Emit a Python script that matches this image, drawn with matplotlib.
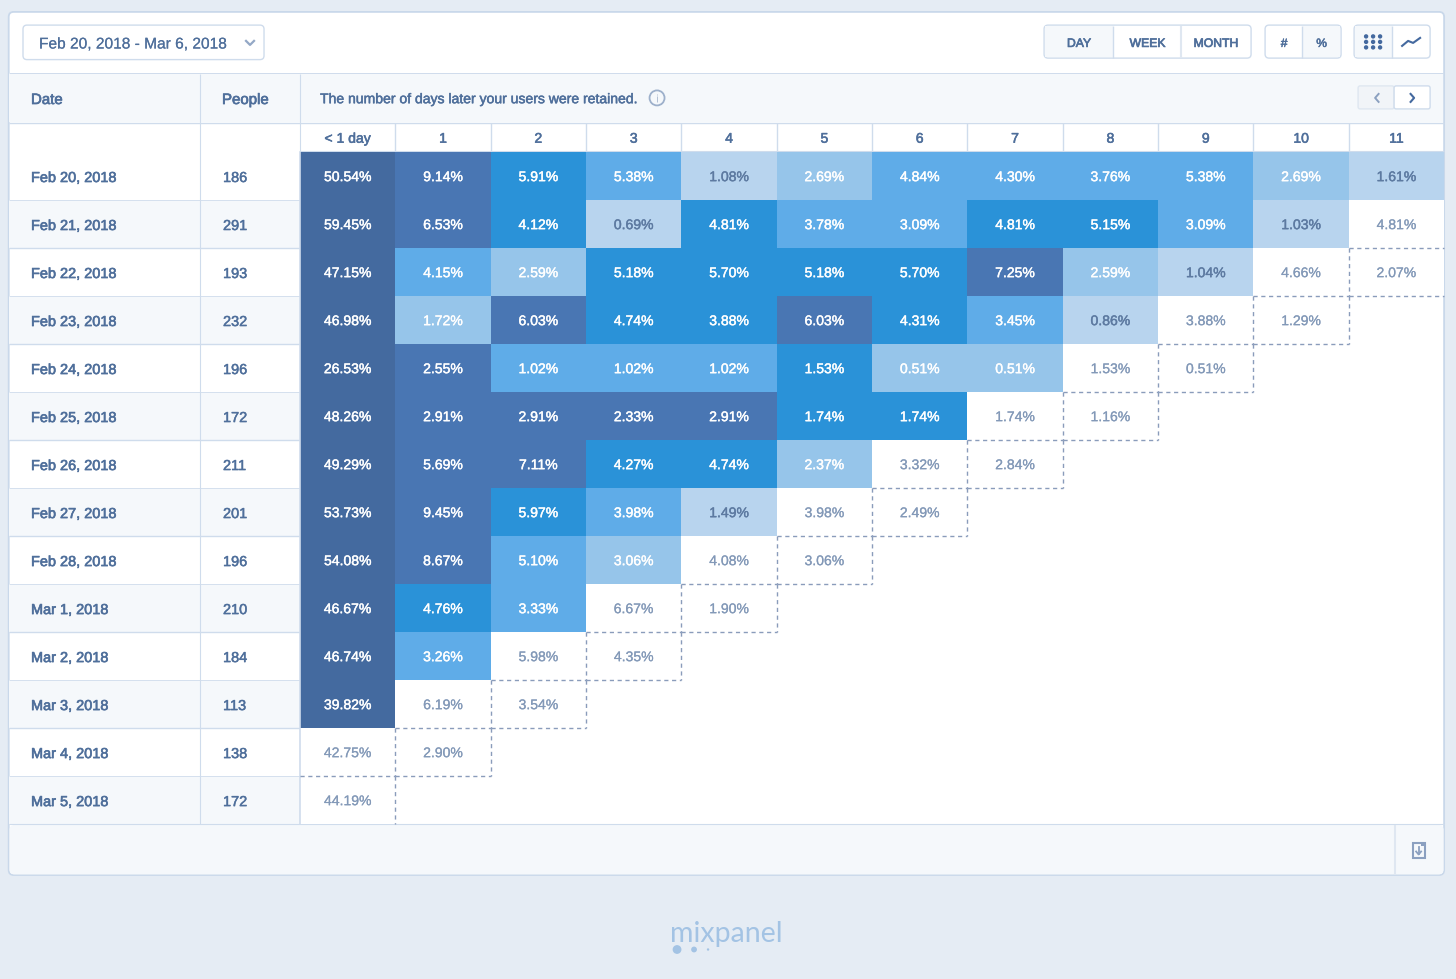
import matplotlib
matplotlib.use("Agg")
import matplotlib.pyplot as plt
import matplotlib.patheffects as pe
from matplotlib.colors import ListedColormap, BoundaryNorm
from matplotlib.patches import FancyBboxPatch, Rectangle, Circle
import numpy as np

dates = ["Feb 20, 2018","Feb 21, 2018","Feb 22, 2018","Feb 23, 2018","Feb 24, 2018","Feb 25, 2018","Feb 26, 2018",
         "Feb 27, 2018","Feb 28, 2018","Mar 1, 2018","Mar 2, 2018","Mar 3, 2018","Mar 4, 2018","Mar 5, 2018"]
people = [186,291,193,232,196,172,211,201,196,210,184,113,138,172]
columns = ["< 1 day","1","2","3","4","5","6","7","8","9","10","11"]
retention = [
 [50.54,9.14,5.91,5.38,1.08,2.69,4.84,4.30,3.76,5.38,2.69,1.61],
 [59.45,6.53,4.12,0.69,4.81,3.78,3.09,4.81,5.15,3.09,1.03,4.81],
 [47.15,4.15,2.59,5.18,5.70,5.18,5.70,7.25,2.59,1.04,4.66,2.07],
 [46.98,1.72,6.03,4.74,3.88,6.03,4.31,3.45,0.86,3.88,1.29],
 [26.53,2.55,1.02,1.02,1.02,1.53,0.51,0.51,1.53,0.51],
 [48.26,2.91,2.91,2.33,2.91,1.74,1.74,1.74,1.16],
 [49.29,5.69,7.11,4.27,4.74,2.37,3.32,2.84],
 [53.73,9.45,5.97,3.98,1.49,3.98,2.49],
 [54.08,8.67,5.10,3.06,4.08,3.06],
 [46.67,4.76,3.33,6.67,1.90],
 [46.74,3.26,5.98,4.35],
 [39.82,6.19,3.54],
 [42.75,2.90],
 [44.19],
]
# shade bucket of each cell: 0 = in-progress (white) ... 6 = darkest
shade = [
 [6,5,4,3,1,2,3,3,3,3,2,1],
 [6,5,4,1,4,3,3,4,4,3,1,0],
 [6,3,2,4,4,4,4,5,2,1,0,0],
 [6,2,5,4,4,5,4,3,1,0,0],
 [6,5,3,3,3,4,2,2,0,0],
 [6,5,5,5,5,4,4,0,0],
 [6,5,5,4,4,2,0,0],
 [6,5,4,3,1,0,0],
 [6,5,3,2,0,0],
 [6,4,3,0,0],
 [6,3,0,0],
 [6,0,0],
 [0,0],
 [0],
]
palette = ["#ffffff","#b8d4ee","#96c5ea","#5facE8","#2a92d8","#4976b3","#446a9f"]

PAGE="#e5ecf4"; PANEL="#f5f8fb"; LINE="#cfdcec"; INK="#4f6f9b"; DASH="#8a9cbb"
FONT="Liberation Sans"
W,H=1456,979
fig=plt.figure(figsize=((W+.1)/100,(H+.1)/100),dpi=100,facecolor=PAGE)
bg=fig.add_axes([0,0,1,1]); bg.set_xlim(0,W); bg.set_ylim(H,0); bg.axis("off")

def medium(color, w=0.35):
    return [pe.withStroke(linewidth=w, foreground=color)]
def txt(ax,x,y,s,size=14.5,color=INK,ha="left",stroke=0.35,**k):
    return ax.text(x,y,s,fontsize=size*0.72,color=color,ha=ha,va="center_baseline",family=FONT,
                   path_effects=medium(color,stroke),**k)
def box(x0,y0,x1,y1,fc="white",ec=LINE,r=4,lw=1,z=2):
    p=FancyBboxPatch((x0+r,y0+r),x1-x0-2*r,y1-y0-2*r,boxstyle=f"round,pad={r},rounding_size={r}",
                     fc=fc,ec=ec,lw=lw,zorder=z)
    bg.add_patch(p); return p
def hline(y,x0,x1,c=LINE,lw=1,ls="-",z=3): bg.plot([x0,x1],[y,y],color=c,lw=lw,ls=ls,zorder=z,solid_capstyle="butt")
def vline(x,y0,y1,c=LINE,lw=1,ls="-",z=3): bg.plot([x,x],[y0,y1],color=c,lw=lw,ls=ls,zorder=z,solid_capstyle="butt")

# card
box(8.7,12,1444,875,fc="white",ec="#c9d8ea",r=5,lw=1.3,z=1)
bg.add_patch(Rectangle((9.3,73.5),1434,49,fc=PANEL,ec="none",zorder=1.2))
bg.add_patch(FancyBboxPatch((14.5,830),1424,39.5,boxstyle="round,pad=5,rounding_size=5",fc=PANEL,ec="none",zorder=1.2))
hline(73,9,1444,lw=.7); hline(122.6,9,1444,lw=1); hline(824,9,1444,lw=.8)
vline(1395,825,875,c="#dfe7f1",lw=1.5)

# date picker
box(23,25.2,264,59.7,r=4)
txt(bg,39,42.6,"Feb 20, 2018 - Mar 6, 2018",size=15.5,stroke=0.1)
bg.plot([246,250,254],[41,45,41],color="#94a8c6",lw=1.6,zorder=3)

# segmented controls
box(1044,25.2,1251,58.2); bg.add_patch(Rectangle((1045,26.2),68,31,fc=PANEL,ec="none",zorder=2.1))
vline(1113,26,58); vline(1181,26,58,c="#dfe7f1",lw=1.5)
txt(bg,1079,42.5,"DAY",size=12.2,ha="center",zorder=4,stroke=0.5)
txt(bg,1147.5,42.5,"WEEK",size=12.2,ha="center",zorder=4,stroke=0.5)
txt(bg,1216,42.5,"MONTH",size=12.2,ha="center",zorder=4,stroke=0.5)
box(1265,25.2,1341,58.2); bg.add_patch(Rectangle((1303,26.2),37,31,fc=PANEL,ec="none",zorder=2.1))
vline(1302,26,58)
txt(bg,1284,42.5,"#",size=12,ha="center",zorder=4,stroke=0.4)
txt(bg,1321.5,42.5,"%",size=12,ha="center",zorder=4,stroke=0.4)
box(1354,25.2,1430,58.2); bg.add_patch(Rectangle((1355,26.2),37,31,fc=PANEL,ec="none",zorder=2.1))
vline(1392,26,58)
for gy in (36.5,42,47.5):
    for gx in (1366,1373,1380):
        bg.add_patch(Circle((gx,gy),2.2,fc="#44699f",ec="none",zorder=4))
bg.plot([1402,1408,1413,1420],[46,41,43,38],color="#44699f",lw=1.5,zorder=4)

# header labels
txt(bg,31,98.6,"Date",size=15,stroke=0.5)
txt(bg,222,98.6,"People",size=15,stroke=0.5)
txt(bg,320,97.8,"The number of days later your users were retained.",size=14,stroke=0.35)
bg.add_patch(Circle((657,98),7.5,fc="none",ec="#9db0cb",lw=1.3,zorder=4))
txt(bg,657,98.2,"i",size=11,color="#7f95b6",ha="center",zorder=5,stroke=0.4)

# pager
box(1358,86,1394,109,fc="#f1f4f8",ec="#dfe7f1",r=2); box(1394,86,1430,109,r=2)
bg.plot([1378.5,1375,1378.5],[94,98,102],color="#8ba0c0",lw=1.4,zorder=4)
bg.plot([1410.5,1414,1410.5],[94,98,102],color="#44699f",lw=1.5,zorder=4)

# left columns
TOP,RH=151.7,48
for i,(d,p) in enumerate(zip(dates,people)):
    y0=TOP+RH*i
    if i%2==1:
        bg.add_patch(Rectangle((9.3,y0),290.5,RH,fc=PANEL,ec="none",zorder=1.2))
    if i<len(dates)-1:
        hline(y0+RH,9,300,lw=1 if i%2 else 0.6)
    txt(bg,31,y0+24.9,d,size=14.5,stroke=0.45,zorder=4)
    txt(bg,223,y0+24.9,str(p),size=14.5,stroke=0.35,zorder=4)
vline(200,74,824,lw=.8); vline(299.8,74,152,lw=.8)

# heatmap
X0,X1=300,1444
hm=fig.add_axes([X0/W,1-(TOP+RH*len(dates))/H,(X1-X0)/W,RH*len(dates)/H])
nr,nc=len(dates),len(columns)
grid=np.ma.masked_all((nr,nc))
for r,row in enumerate(shade):
    for c,v in enumerate(row): grid[r,c]=v
cmap=ListedColormap(palette); norm=BoundaryNorm(np.arange(-.5,7.5),7)
hm.pcolormesh(np.arange(nc+1),np.arange(nr+1),grid,cmap=cmap,norm=norm,linewidth=0)
hm.set_xlim(0,nc); hm.set_ylim(nr,0); hm.axis("off"); hm.patch.set_alpha(0)
hm.plot([0,0],[0,nr],color=LINE,lw=1.2,zorder=3,clip_on=False)

for r,row in enumerate(retention):
    for c,v in enumerate(row):
        s=shade[r][c]
        col={0:"#8399b8",1:"#5d7aa1"}.get(s,"white")
        txt(hm,c+.5,r+.5,f"{v:.2f}%",size=14,color=col,ha="center",stroke=0.3 if s else 0.15,zorder=4)
    # dashed frontier around in-progress cells
    n=len(row)
    for c in range(max(n-2,0),n):
        if shade[r][c]==0:
            if r+1<nr:
                hm.plot([c,c+1],[r+1,r+1],color=DASH,lw=1,ls=(0,(3,2.6)),zorder=5,clip_on=False)
            if c+1<nc:
                hm.plot([c+1,c+1],[r,r+1],color=DASH,lw=1,ls=(0,(3,2.6)),zorder=5,clip_on=False)

# column heads
CW=(X1-X0)/nc
for c,name in enumerate(columns):
    txt(bg,X0+CW*(c+.5),137.3,name,size=14,ha="center",stroke=0.4,zorder=4)
    if c: vline(X0+CW*c,123,152,lw=1)
hline(151.3,X0,X1,lw=0.8)

# export icon
bg.add_patch(Rectangle((1413,843.5),12,15,fc="none",ec="#8ba0c0",lw=1.5,zorder=4))
bg.add_patch(Rectangle((1421,842.5),4,4,fc="#8ba0c0",ec="none",zorder=4))
bg.plot([1418.5,1418.5],[847.5,854.5],color="#8ba0c0",lw=1.3,zorder=4)
bg.plot([1416,1418.5,1421],[851.5,854.5,851.5],color="#8ba0c0",lw=1.3,zorder=4)

# brand
bg.text(726.5,931,"mixpanel",fontsize=20.5,color="#a3c3e4",ha="center",va="center_baseline",family="Lato",zorder=4)
for x,r in ((677,4.4),(694,2.9),(708,1.2)):
    bg.add_patch(Circle((x,949.5),r,fc="#a3c3e4",ec="none",zorder=4))

fig.savefig("out.png",dpi=100,facecolor=PAGE)
